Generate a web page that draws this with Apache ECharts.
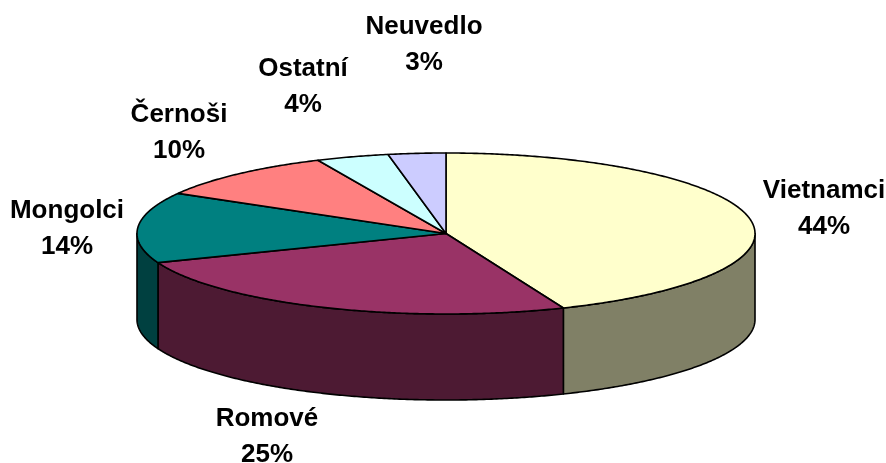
<!DOCTYPE html>
<html>
<head>
<meta charset="utf-8">
<style>html,body{margin:0;padding:0;background:#fff}#c{width:886px;height:463px}</style>
<script src="https://cdn.jsdelivr.net/npm/echarts@6/dist/echarts.min.js"></script>
</head>
<body>
<div id="c"></div>
<script>
const categories = ['Vietnamci', 'Romové', 'Mongolci', 'Černoši', 'Ostatní', 'Neuvedlo'];
const values = [43.8, 25.3, 14.2, 9.9, 3.8, 3.0];
const topColors = ['#FFFFCC', '#993366', '#008080', '#FF8080', '#CCFFFF', '#CCCCFF'];
const sideColors = ['#808066', '#4D1A33', '#004040', '#804040', '#668080', '#666680'];
const labelCenters = [[824, 209], [267, 437], [67, 229], [179, 133], [303, 87], [424, 45]];

const CX = 446, CY = 233.5, RX = 309, RY = 80.5, DEPTH = 86;
const total = values.reduce((a, b) => a + b, 0);
const starts = [];
values.reduce((acc, v, i) => { starts[i] = acc; return acc + v; }, 0);
const toAngle = v => v / total * Math.PI * 2;
const rimPoint = (a, dy) => [CX + RX * Math.sin(a), CY - RY * Math.cos(a) + (dy || 0)];

function arcPoints(a0, a1, dy) {
  const n = Math.max(2, Math.ceil((a1 - a0) * 120));
  const pts = [];
  for (let k = 0; k <= n; k++) pts.push(rimPoint(a0 + (a1 - a0) * k / n, dy));
  return pts;
}

const chart = echarts.init(document.getElementById('c'), null, { renderer: 'canvas' });
const line = { stroke: '#000', lineWidth: 1.6, lineJoin: 'round' };
const seriesData = categories.map((name, i) => ({ name, value: [i, values[i]] }));

chart.setOption({
  animation: false,
  backgroundColor: '#fff',
  series: [
    {
      type: 'custom',
      coordinateSystem: 'none',
      silent: true,
      z: 1,
      data: seriesData,
      renderItem: (p, api) => {
        const i = api.value(0);
        const a0 = Math.max(toAngle(starts[i]), Math.PI / 2);
        const a1 = Math.min(toAngle(starts[i] + api.value(1)), Math.PI * 1.5);
        if (a1 <= a0) return { type: 'group', children: [] };
        const pts = arcPoints(a0, a1, 0).concat(arcPoints(a0, a1, DEPTH).reverse());
        return { type: 'polygon', shape: { points: pts }, style: Object.assign({ fill: sideColors[i] }, line) };
      }
    },
    {
      type: 'custom',
      coordinateSystem: 'none',
      silent: true,
      z: 2,
      data: seriesData,
      renderItem: (p, api) => {
        const i = api.value(0);
        const a0 = toAngle(starts[i]);
        const a1 = toAngle(starts[i] + api.value(1));
        const pts = [[CX, CY]].concat(arcPoints(a0, a1, 0));
        return { type: 'polygon', shape: { points: pts }, style: Object.assign({ fill: topColors[i] }, line) };
      }
    },
    {
      type: 'custom',
      coordinateSystem: 'none',
      silent: true,
      z: 3,
      data: seriesData,
      renderItem: (p, api) => {
        const i = api.value(0);
        return {
          type: 'text',
          style: {
            x: labelCenters[i][0],
            y: labelCenters[i][1],
            text: categories[i] + '\n' + Math.round(api.value(1)) + '%',
            fill: '#000',
            font: 'bold 26px "Liberation Sans", Arial, sans-serif',
            lineHeight: 36,
            align: 'center',
            verticalAlign: 'middle'
          }
        };
      }
    }
  ]
});
</script>
</body>
</html>
